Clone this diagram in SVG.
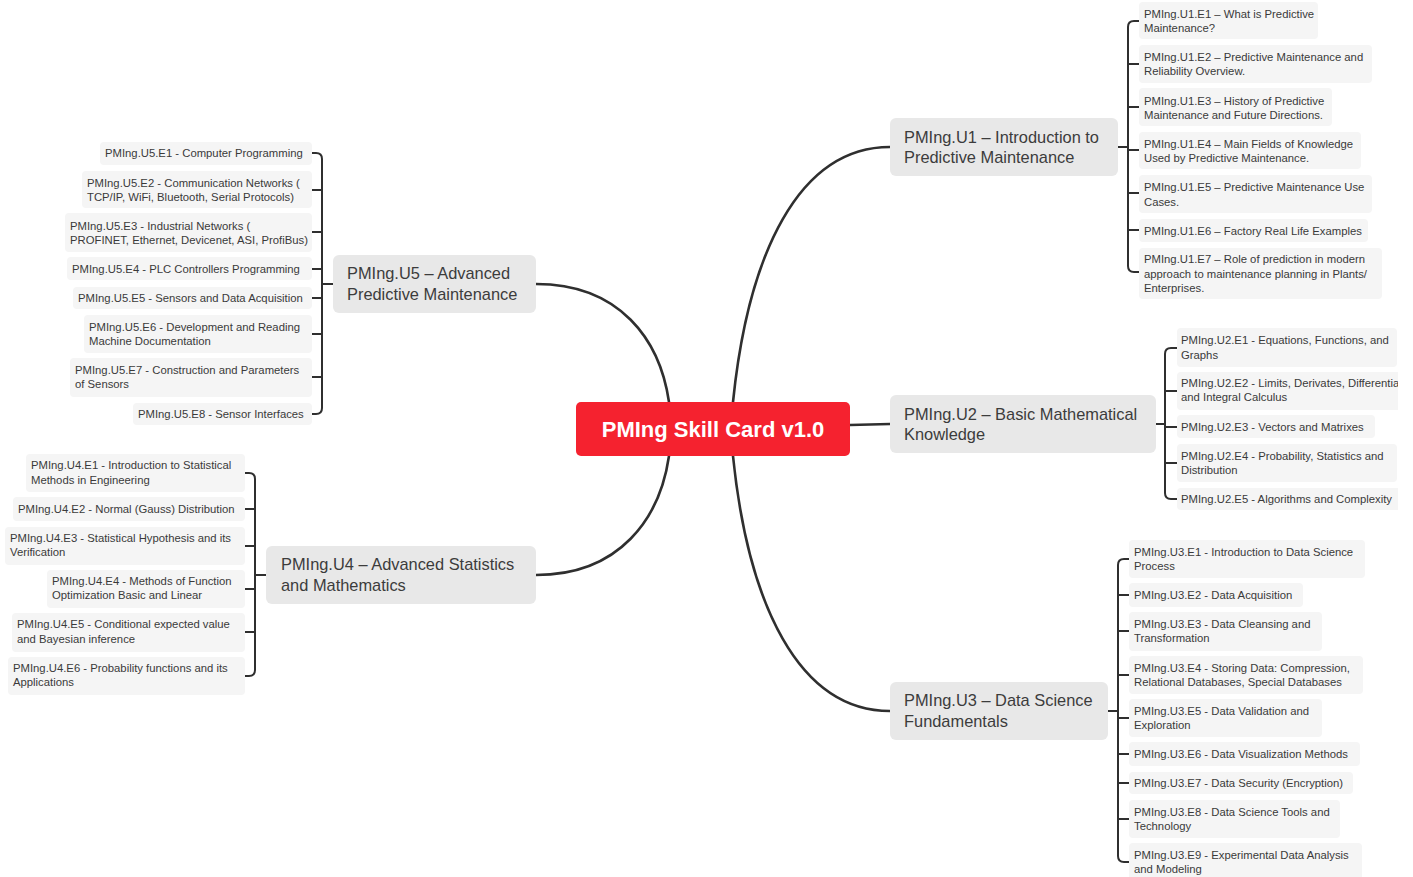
<svg xmlns="http://www.w3.org/2000/svg" width="1413" height="877" viewBox="0 0 1413 877">
<style>
.leaf rect{fill:#f5f5f5}
.leaf text{font-family:"Liberation Sans",Arial,sans-serif;font-size:11.3px;fill:#3a3a3a}
.topic rect{fill:#e8e8e8}
.topic text{font-family:"Liberation Sans",Arial,sans-serif;font-size:16.4px;fill:#3c3c3c}
.main{fill:none;stroke:#2f2f2f;stroke-width:2.6;stroke-linecap:round}
.br{fill:none;stroke:#2f2f2f;stroke-width:2;stroke-linecap:round}
</style>
<defs><clipPath id="cp"><rect x="0" y="0" width="1398" height="877"/></clipPath></defs>
<rect x="0" y="0" width="1413" height="877" fill="#ffffff"/>
<g clip-path="url(#cp)">
<g id="connectors">
<path class="main" d="M733,402 C748,255 798,147 890,147"/>
<path class="main" d="M850,425 L890,424"/>
<path class="main" d="M733,456 C748,603 798,711 890,711"/>
<path class="main" d="M669,402 C660,340 620,284 536,284"/>
<path class="main" d="M669,456 C660,518 620,575 536,575"/>
<path class="br" d="M1118,147 L1128,147 M1139,21 L1134,21 Q1128,21 1128,27 L1128,266 Q1128,272 1134,272 L1139,272 M1128,64 L1139,64 M1128,107 L1139,107 M1128,150 L1139,150 M1128,193 L1139,193 M1128,230 L1139,230"/>
<path class="br" d="M1156,424 L1165,424 M1177,348 L1171,348 Q1165,348 1165,354 L1165,493 Q1165,499 1171,499 L1177,499 M1165,391 L1177,391 M1165,427 L1177,427 M1165,463 L1177,463"/>
<path class="br" d="M1108,711 L1118,711 M1129,559 L1124,559 Q1118,559 1118,565 L1118,856 Q1118,862 1124,862 L1129,862 M1118,595 L1129,595 M1118,631 L1129,631 M1118,675 L1129,675 M1118,718 L1129,718 M1118,754 L1129,754 M1118,783 L1129,783 M1118,819 L1129,819"/>
<path class="br" d="M333,284 L322,284 M312,153 L316,153 Q322,153 322,159 L322,408 Q322,414 316,414 L312,414 M322,190 L312,190 M322,232 L312,232 M322,269 L312,269 M322,298 L312,298 M322,334 L312,334 M322,377 L312,377"/>
<path class="br" d="M266,575 L255,575 M245,473 L249,473 Q255,473 255,479 L255,670 Q255,676 249,676 L245,676 M255,509 L245,509 M255,546 L245,546 M255,589 L245,589 M255,632 L245,632"/>
</g>

<g id="root">
<rect x="576" y="402" width="274" height="54" rx="5" fill="#f5222f"/>
<text x="713" y="437" text-anchor="middle" font-family="'Liberation Sans',Arial,sans-serif" font-size="22" font-weight="bold" fill="#ffffff">PMIng Skill Card v1.0</text>
</g>

<g id="u1" class="topic"><rect x="890" y="118" width="228" height="58" rx="6"/>
<text x="904" y="143">PMIng.U1 – Introduction to</text><text x="904" y="163">Predictive Maintenance</text></g>
<g id="u2" class="topic"><rect x="890" y="395" width="266" height="58" rx="6"/>
<text x="904" y="420">PMIng.U2 – Basic Mathematical</text><text x="904" y="440">Knowledge</text></g>
<g id="u3" class="topic"><rect x="890" y="682" width="218" height="58" rx="6"/>
<text x="904" y="706">PMIng.U3 – Data Science</text><text x="904" y="727">Fundamentals</text></g>
<g id="u5" class="topic"><rect x="333" y="255" width="203" height="58" rx="6"/>
<text x="347" y="279">PMIng.U5 – Advanced</text><text x="347" y="300">Predictive Maintenance</text></g>
<g id="u4" class="topic"><rect x="266" y="546" width="270" height="58" rx="6"/>
<text x="281" y="570">PMIng.U4 – Advanced Statistics</text><text x="281" y="591">and Mathematics</text></g>

<g id="u1e1" class="leaf"><rect x="1139" y="2" width="179" height="37" rx="4"/><text x="1144" y="18">PMIng.U1.E1 – What is Predictive</text><text x="1144" y="32">Maintenance?</text></g>
<g id="u1e2" class="leaf"><rect x="1139" y="45" width="233" height="38" rx="4"/><text x="1144" y="61">PMIng.U1.E2 – Predictive Maintenance and</text><text x="1144" y="75">Reliability Overview.</text></g>
<g id="u1e3" class="leaf"><rect x="1139" y="88" width="193" height="38" rx="4"/><text x="1144" y="105">PMIng.U1.E3 – History of Predictive</text><text x="1144" y="119">Maintenance and Future Directions.</text></g>
<g id="u1e4" class="leaf"><rect x="1139" y="132" width="222" height="37" rx="4"/><text x="1144" y="148">PMIng.U1.E4 – Main Fields of Knowledge</text><text x="1144" y="162">Used by Predictive Maintenance.</text></g>
<g id="u1e5" class="leaf"><rect x="1139" y="175" width="233" height="38" rx="4"/><text x="1144" y="191">PMIng.U1.E5 – Predictive Maintenance Use</text><text x="1144" y="206">Cases.</text></g>
<g id="u1e6" class="leaf"><rect x="1139" y="219" width="229" height="23" rx="4"/><text x="1144" y="235">PMIng.U1.E6 – Factory Real Life Examples</text></g>
<g id="u1e7" class="leaf"><rect x="1139" y="248" width="243" height="51" rx="4"/><text x="1144" y="263">PMIng.U1.E7 – Role of prediction in modern</text><text x="1144" y="278">approach to maintenance planning in Plants/</text><text x="1144" y="292">Enterprises.</text></g>

<g id="u2e1" class="leaf"><rect x="1177" y="328" width="220" height="39" rx="4"/><text x="1181" y="344">PMIng.U2.E1 - Equations, Functions, and</text><text x="1181" y="359">Graphs</text></g>
<g id="u2e2" class="leaf"><rect x="1177" y="372" width="240" height="38" rx="4"/><text x="1181" y="387">PMIng.U2.E2 - Limits, Derivates, Differential</text><text x="1181" y="401">and Integral Calculus</text></g>
<g id="u2e3" class="leaf"><rect x="1177" y="415" width="198" height="23" rx="4"/><text x="1181" y="431">PMIng.U2.E3 - Vectors and Matrixes</text></g>
<g id="u2e4" class="leaf"><rect x="1177" y="444" width="220" height="38" rx="4"/><text x="1181" y="460">PMIng.U2.E4 - Probability, Statistics and</text><text x="1181" y="474">Distribution</text></g>
<g id="u2e5" class="leaf"><rect x="1177" y="488" width="240" height="22" rx="4"/><text x="1181" y="503">PMIng.U2.E5 - Algorithms and Complexity</text></g>

<g id="u3e1" class="leaf"><rect x="1129" y="540" width="236" height="38" rx="4"/><text x="1134" y="556">PMIng.U3.E1 - Introduction to Data Science</text><text x="1134" y="570">Process</text></g>
<g id="u3e2" class="leaf"><rect x="1129" y="583" width="174" height="24" rx="4"/><text x="1134" y="599">PMIng.U3.E2 - Data Acquisition</text></g>
<g id="u3e3" class="leaf"><rect x="1129" y="612" width="193" height="39" rx="4"/><text x="1134" y="628">PMIng.U3.E3 - Data Cleansing and</text><text x="1134" y="642">Transformation</text></g>
<g id="u3e4" class="leaf"><rect x="1129" y="656" width="234" height="38" rx="4"/><text x="1134" y="672">PMIng.U3.E4 - Storing Data: Compression,</text><text x="1134" y="686">Relational Databases, Special Databases</text></g>
<g id="u3e5" class="leaf"><rect x="1129" y="699" width="193" height="38" rx="4"/><text x="1134" y="715">PMIng.U3.E5 - Data Validation and</text><text x="1134" y="729">Exploration</text></g>
<g id="u3e6" class="leaf"><rect x="1129" y="742" width="231" height="24" rx="4"/><text x="1134" y="758">PMIng.U3.E6 - Data Visualization Methods</text></g>
<g id="u3e7" class="leaf"><rect x="1129" y="772" width="224" height="22" rx="4"/><text x="1134" y="787">PMIng.U3.E7 - Data Security (Encryption)</text></g>
<g id="u3e8" class="leaf"><rect x="1129" y="800" width="211" height="38" rx="4"/><text x="1134" y="816">PMIng.U3.E8 - Data Science Tools and</text><text x="1134" y="830">Technology</text></g>
<g id="u3e9" class="leaf"><rect x="1129" y="843" width="233" height="40" rx="4"/><text x="1134" y="859">PMIng.U3.E9 - Experimental Data Analysis</text><text x="1134" y="873">and Modeling</text></g>

<g id="u5e1" class="leaf"><rect x="100" y="142" width="212" height="23" rx="4"/><text x="105" y="157">PMIng.U5.E1 - Computer Programming</text></g>
<g id="u5e2" class="leaf"><rect x="82" y="171" width="230" height="37" rx="4"/><text x="87" y="187">PMIng.U5.E2 - Communication Networks (</text><text x="87" y="201">TCP/IP, WiFi, Bluetooth, Serial Protocols)</text></g>
<g id="u5e3" class="leaf"><rect x="65" y="213" width="247" height="39" rx="4"/><text x="70" y="230">PMIng.U5.E3 - Industrial Networks (</text><text x="70" y="244">PROFINET, Ethernet, Devicenet, ASI, ProfiBus)</text></g>
<g id="u5e4" class="leaf"><rect x="67" y="257" width="245" height="23" rx="4"/><text x="72" y="273">PMIng.U5.E4 - PLC Controllers Programming</text></g>
<g id="u5e5" class="leaf"><rect x="73" y="287" width="239" height="22" rx="4"/><text x="78" y="302">PMIng.U5.E5 - Sensors and Data Acquisition</text></g>
<g id="u5e6" class="leaf"><rect x="84" y="315" width="228" height="38" rx="4"/><text x="89" y="331">PMIng.U5.E6 - Development and Reading</text><text x="89" y="345">Machine Documentation</text></g>
<g id="u5e7" class="leaf"><rect x="70" y="358" width="242" height="39" rx="4"/><text x="75" y="374">PMIng.U5.E7 - Construction and Parameters</text><text x="75" y="388">of Sensors</text></g>
<g id="u5e8" class="leaf"><rect x="133" y="403" width="179" height="22" rx="4"/><text x="138" y="418">PMIng.U5.E8 - Sensor Interfaces</text></g>

<g id="u4e1" class="leaf"><rect x="26" y="454" width="219" height="38" rx="4"/><text x="31" y="469">PMIng.U4.E1 - Introduction to Statistical</text><text x="31" y="484">Methods in Engineering</text></g>
<g id="u4e2" class="leaf"><rect x="13" y="497" width="232" height="24" rx="4"/><text x="18" y="513">PMIng.U4.E2 - Normal (Gauss) Distribution</text></g>
<g id="u4e3" class="leaf"><rect x="5" y="527" width="240" height="38" rx="4"/><text x="10" y="542">PMIng.U4.E3 - Statistical Hypothesis and its</text><text x="10" y="556">Verification</text></g>
<g id="u4e4" class="leaf"><rect x="47" y="570" width="198" height="38" rx="4"/><text x="52" y="585">PMIng.U4.E4 - Methods of Function</text><text x="52" y="599">Optimization Basic and Linear</text></g>
<g id="u4e5" class="leaf"><rect x="12" y="613" width="233" height="39" rx="4"/><text x="17" y="628">PMIng.U4.E5 - Conditional expected value</text><text x="17" y="643">and Bayesian inference</text></g>
<g id="u4e6" class="leaf"><rect x="8" y="657" width="237" height="38" rx="4"/><text x="13" y="672">PMIng.U4.E6 - Probability functions and its</text><text x="13" y="686">Applications</text></g>
</g>
</svg>
